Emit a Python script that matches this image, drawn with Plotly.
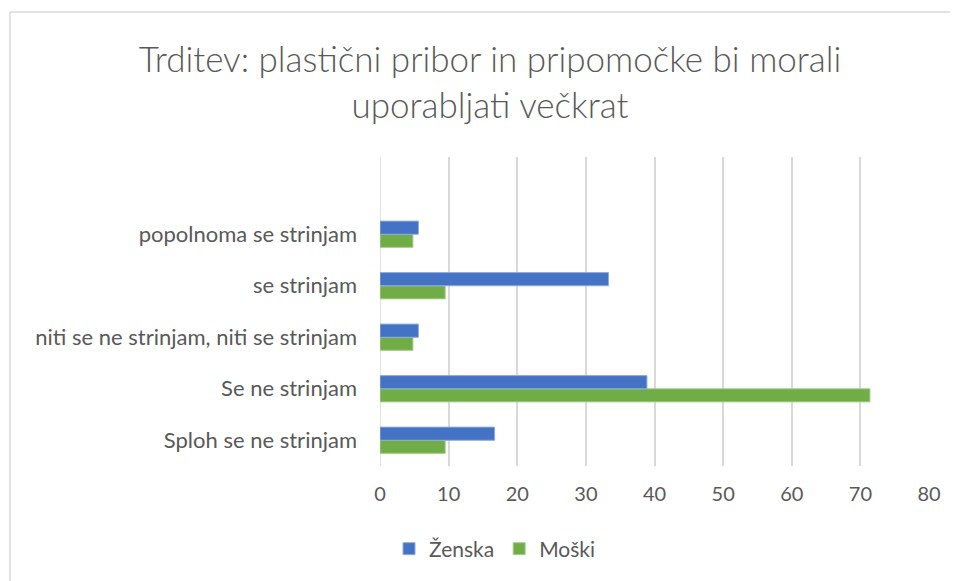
import plotly.graph_objects as go

categories = ["Sploh se ne strinjam", "Se ne strinjam",
              "niti se ne strinjam, niti se strinjam", "se strinjam",
              "popolnoma se strinjam"]
zenska = [16.7, 38.9, 5.6, 33.3, 5.6]
moski = [9.5, 71.4, 4.8, 9.5, 4.8]
x_ticks = [0, 10, 20, 30, 40, 50, 60, 70, 80]

# the page body adds an 8px offset; compensate
OX, OY = 8, 8
W, H = 958 - OX, 581 - OY
L, R, T, B = 380 - OX, 29, 157 - OY, 581 - 466
pw, ph = W - L - R, H - T - B

fnt = "Lato"
gray = "#595959"

fig = go.Figure()
fig.add_trace(go.Bar(y=categories, x=moski, name="Moški", orientation="h",
                     marker=dict(color="#70AD47", line=dict(color="#A9D18E", width=1)),
                     legendrank=2))
fig.add_trace(go.Bar(y=categories, x=zenska, name="Ženska", orientation="h",
                     marker=dict(color="#4472C4", line=dict(color="#8FAADC", width=1)),
                     legendrank=1))

def px_x(p):
    return (p - OX - L) / pw

def px_y(p):
    return (H - B - (p - OY)) / ph

fig.update_layout(
    width=W, height=H,
    margin=dict(l=L, r=R, t=T, b=B),
    paper_bgcolor="white", plot_bgcolor="white",
    barmode="group", bargap=0.49, bargroupgap=0,
    font=dict(family=fnt, color=gray, size=20),
    title=dict(text="Trditev: plastični pribor in pripomočke bi morali<br>uporabljati večkrat",
               x=(490 - OX) / W, xanchor="center", xref="container",
               y=1 - (72 - OY) / H, yanchor="top",
               font=dict(family=fnt, size=35, color=gray, weight=300)),
    xaxis=dict(range=[0, 80], tickvals=x_ticks, showgrid=True, gridcolor="#D9D9D9",
               gridwidth=1.5, zeroline=False, showline=False, ticks="",
               tickfont=dict(size=20, color=gray), ticklabelstandoff=14,
               fixedrange=True),
    yaxis=dict(type="category", categoryorder="array", categoryarray=categories,
               range=[-0.5, 5.5],
               showgrid=False, zeroline=False, showline=False, ticks="",
               ticklabelstandoff=22, tickfont=dict(size=22, color=gray),
               fixedrange=True),
    legend=dict(orientation="h", x=px_x(495), xanchor="center",
                y=px_y(549), yanchor="middle", font=dict(size=21, color=gray),
                itemwidth=30, traceorder="normal"),
    shapes=[
        dict(type="line", xref="paper", yref="paper", x0=px_x(10), x1=px_x(10),
             y0=px_y(12), y1=px_y(600), line=dict(color="#D9D9D9", width=1.5)),
        dict(type="line", xref="paper", yref="paper", x0=px_x(10), x1=px_x(980),
             y0=px_y(12), y1=px_y(12), line=dict(color="#D9D9D9", width=1.5)),
        dict(type="line", xref="x", yref="paper", x0=0, x1=0, y0=0, y1=1,
             line=dict(color="#D9D9D9", width=1.5), layer="below"),
    ],
)

fig.write_html("out.html")
